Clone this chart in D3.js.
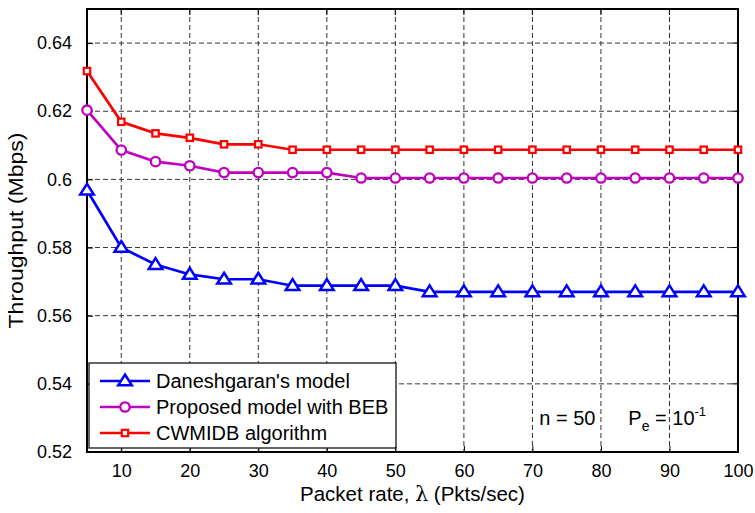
<!DOCTYPE html>
<html>
<head>
<meta charset="utf-8">
<script src="https://cdn.jsdelivr.net/npm/d3@7"></script>
<style>
  body { margin: 0; background: #fff; }
  svg text { font-family: "Liberation Sans", Arial, Helvetica, sans-serif; fill: #000; }
</style>
</head>
<body>
<div id="chart"></div>
<script>
// packet rate values (x)
var rates = [5, 10, 15, 20, 25, 30, 35, 40, 45, 50, 55, 60, 65, 70, 75, 80, 85, 90, 95, 100];

// throughput values
var daneshgaran = [0.5968, 0.5800, 0.5750, 0.5721, 0.5707, 0.5707, 0.5688, 0.5688, 0.5688, 0.5688,
                   0.5670, 0.5670, 0.5670, 0.5670, 0.5670, 0.5670, 0.5670, 0.5670, 0.5670, 0.5670];
var proposed = [0.6203, 0.6086, 0.6052, 0.6040, 0.6020, 0.6020, 0.6020, 0.6020, 0.6004, 0.6004,
                0.6004, 0.6004, 0.6004, 0.6004, 0.6004, 0.6004, 0.6004, 0.6004, 0.6004, 0.6004];
var cwmidb = [0.6318, 0.6169, 0.6135, 0.6122, 0.6103, 0.6103, 0.6087, 0.6087, 0.6087, 0.6087,
              0.6087, 0.6087, 0.6087, 0.6087, 0.6087, 0.6087, 0.6087, 0.6087, 0.6087, 0.6087];

var seriesNames = ["Daneshgaran's model", "Proposed model with BEB", "CWMIDB algorithm"];
var xTicks = [10, 20, 30, 40, 50, 60, 70, 80, 90, 100];
var yTicks = [0.52, 0.54, 0.56, 0.58, 0.6, 0.62, 0.64];

(function() {
    var width = 755,
        height = 513,
        margin = {left: 87, right: 17, top: 9, bottom: 61},
        plotW = width - margin.left - margin.right,
        plotH = height - margin.top - margin.bottom;

    var svg = d3.select("#chart").append("svg")
                .attr("width", width)
                .attr("height", height);

    var g = svg.append("g")
               .attr("transform", "translate(" + margin.left + "," + margin.top + ")");

    var x = d3.scaleLinear().domain([5, 100]).range([0, plotW]);
    var y = d3.scaleLinear().domain([0.52, 0.65]).range([plotH, 0]);

    // grid
    g.selectAll(".vgrid")
     .data(xTicks)
     .enter().append("line")
     .attr("x1", function(d) { return x(d); })
     .attr("x2", function(d) { return x(d); })
     .attr("y1", 0).attr("y2", plotH)
     .attr("stroke", "#333").attr("stroke-width", 1)
     .attr("stroke-dasharray", "5,3");

    g.selectAll(".hgrid")
     .data(yTicks.slice(1))
     .enter().append("line")
     .attr("x1", 0).attr("x2", plotW)
     .attr("y1", function(d) { return y(d); })
     .attr("y2", function(d) { return y(d); })
     .attr("stroke", "#333").attr("stroke-width", 1)
     .attr("stroke-dasharray", "5,3");

    // axes (ticks drawn inward like matlab)
    var xAxis = g.append("g")
                 .attr("transform", "translate(0," + plotH + ")")
                 .call(d3.axisBottom(x).tickValues(xTicks).tickSizeInner(-6).tickSizeOuter(0).tickPadding(12)
                         .tickFormat(d3.format("d")));
    var yAxis = g.append("g")
                 .call(d3.axisLeft(y).tickValues(yTicks).tickSizeInner(-6).tickSizeOuter(0).tickPadding(15)
                         .tickFormat(function(d) { return d === 0.6 ? "0.6" : d3.format(".2f")(d); }));

    [xAxis, yAxis].forEach(function(a) {
        a.select(".domain").remove();
        a.selectAll("line").attr("stroke", "#000").attr("stroke-width", 1);
        a.selectAll("text").style("font-size", "18px");
    });

    // top ticks / right ticks
    g.selectAll(".ttick").data(xTicks).enter().append("line")
     .attr("x1", function(d) { return x(d); }).attr("x2", function(d) { return x(d); })
     .attr("y1", 0).attr("y2", 6).attr("stroke", "#000");
    g.selectAll(".rtick").data(yTicks).enter().append("line")
     .attr("x1", plotW).attr("x2", plotW - 6)
     .attr("y1", function(d) { return y(d); }).attr("y2", function(d) { return y(d); })
     .attr("stroke", "#000");

    g.append("rect")
     .attr("width", plotW).attr("height", plotH)
     .attr("fill", "none").attr("stroke", "#000").attr("stroke-width", 2);

    // series
    var series = [
        {name: seriesNames[0], values: daneshgaran, color: "#0000ff", marker: "triangle"},
        {name: seriesNames[1], values: proposed, color: "#bf00bf", marker: "circle"},
        {name: seriesNames[2], values: cwmidb, color: "#ff0000", marker: "square"}
    ];

    var line = d3.line()
                 .x(function(d) { return x(d[0]); })
                 .y(function(d) { return y(d[1]); });

    function drawMarker(sel, type, color) {
        if (type === "triangle") {
            sel.append("path")
               .attr("d", "M0,-6.5L6.8,4.3L-6.8,4.3Z")
               .attr("fill", "#fff").attr("stroke", color).attr("stroke-width", 2.5);
        } else if (type === "circle") {
            sel.append("circle").attr("r", 4.7)
               .attr("fill", "#fff").attr("stroke", color).attr("stroke-width", 2.3);
        } else {
            sel.append("rect").attr("x", -3.2).attr("y", -3.2).attr("width", 6.4).attr("height", 6.4)
               .attr("fill", "#fff").attr("stroke", color).attr("stroke-width", 2.2);
        }
    }

    series.forEach(function(s) {
        var pts = rates.map(function(r, i) { return [r, s.values[i]]; });
        g.append("path")
         .datum(pts)
         .attr("d", line)
         .attr("fill", "none")
         .attr("stroke", s.color)
         .attr("stroke-width", 2.7);

        g.selectAll(".m-" + s.marker)
         .data(pts)
         .enter().append("g")
         .attr("class", "m-" + s.marker)
         .attr("transform", function(d) { return "translate(" + x(d[0]) + "," + y(d[1]) + ")"; })
         .each(function() { drawMarker(d3.select(this), s.marker, s.color); });
    });

    // legend
    var legend = g.append("g").attr("transform", "translate(2," + (plotH - 89) + ")");
    legend.append("rect")
          .attr("width", 307).attr("height", 85)
          .attr("fill", "#fff").attr("stroke", "#000").attr("stroke-width", 1.2);
    series.forEach(function(s, i) {
        var row = legend.append("g").attr("transform", "translate(0," + (18 + i * 26) + ")");
        row.append("line").attr("x1", 11).attr("x2", 61)
           .attr("stroke", s.color).attr("stroke-width", 2.5);
        var m = row.append("g").attr("transform", "translate(36,0)");
        drawMarker(m, s.marker, s.color);
        row.append("text").attr("x", 67).attr("dy", "0.36em")
           .style("font-size", "20px").text(s.name);
    });

    // annotation
    var ann = g.append("text")
               .attr("x", x(71)).attr("y", plotH - 27)
               .style("font-size", "20px");
    ann.append("tspan").text("n = 50");
    var ann2 = g.append("text")
                .attr("x", x(84)).attr("y", plotH - 27)
                .style("font-size", "20px");
    ann2.append("tspan").text("P");
    ann2.append("tspan").attr("dy", 6).style("font-size", "14px").text("e");
    ann2.append("tspan").attr("dy", -6).text(" = 10");
    ann2.append("tspan").attr("dy", -9).style("font-size", "13px").text("-1");

    // axis labels
    var xl = svg.append("text")
                .attr("x", margin.left + plotW / 2)
                .attr("y", height - 12)
                .attr("text-anchor", "middle")
                .style("font-size", "20.5px");
    xl.append("tspan").text("Packet rate, ");
    xl.append("tspan").style("font-family", "'DejaVu Serif', serif").text("λ");
    xl.append("tspan").text(" (Pkts/sec)");

    svg.append("text")
       .attr("transform", "translate(23," + (margin.top + plotH / 2) + ") rotate(-90)")
       .attr("text-anchor", "middle")
       .attr("textLength", 196)
       .attr("lengthAdjust", "spacingAndGlyphs")
       .style("font-size", "20px")
       .text("Throughput (Mbps)");
})();
</script>
</body>
</html>
